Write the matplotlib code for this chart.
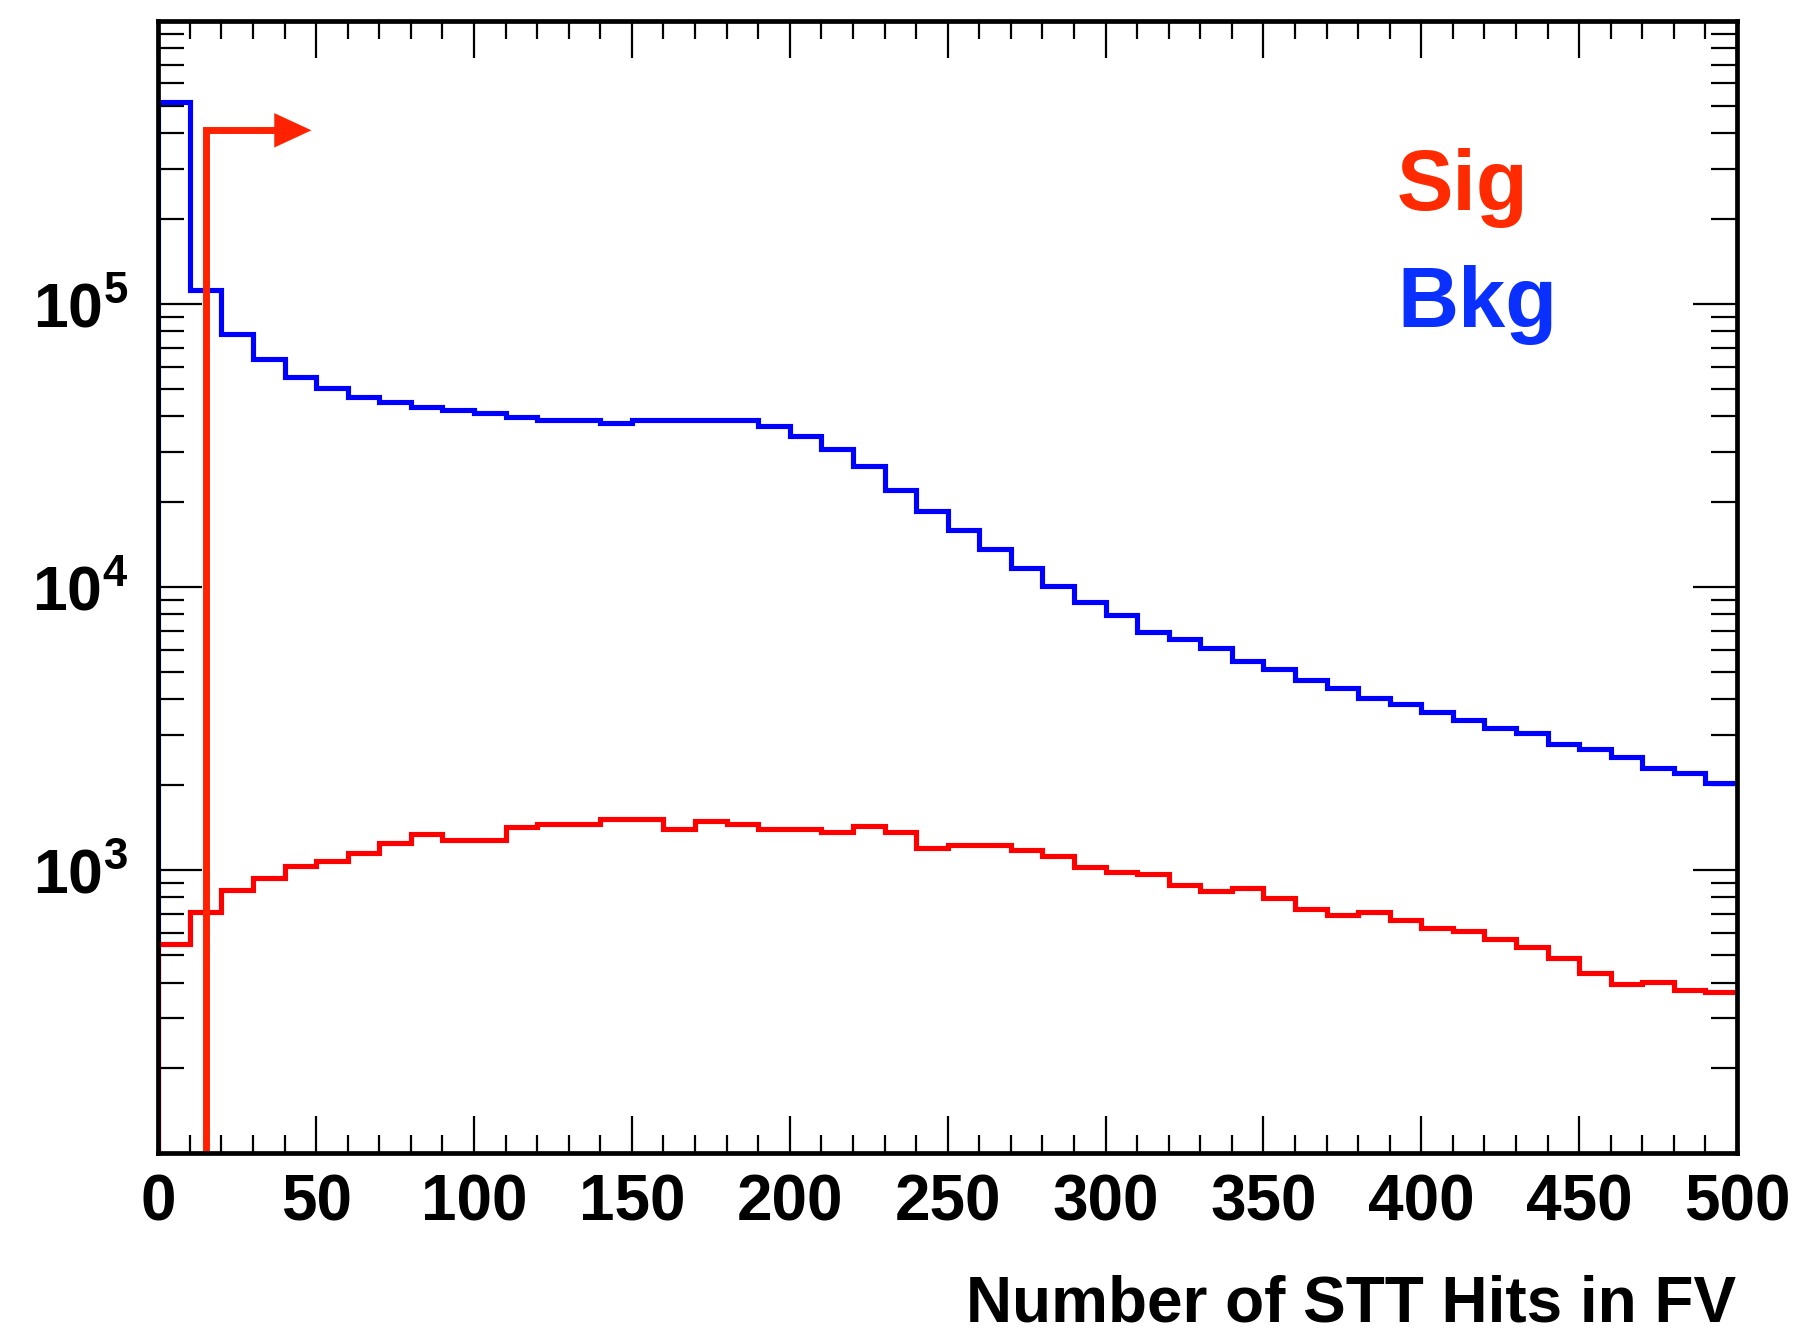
import numpy as np
import matplotlib
matplotlib.use("Agg")
import matplotlib.pyplot as plt
from matplotlib.ticker import FixedLocator, LogLocator, NullFormatter

# ---------------- data ----------------
bin_edges = np.arange(0, 510, 10)

bkg_counts = [
    5.17e5, 1.12e5, 7.80e4, 6.40e4, 5.49e4, 5.02e4, 4.70e4, 4.50e4, 4.31e4, 4.21e4,
    4.12e4, 3.97e4, 3.87e4, 3.87e4, 3.78e4, 3.89e4, 3.89e4, 3.89e4, 3.89e4, 3.71e4,
    3.40e4, 3.06e4, 2.68e4, 2.20e4, 1.85e4, 1.59e4, 1.36e4, 1.17e4, 1.01e4, 8.84e3,
    7.94e3, 6.95e3, 6.53e3, 6.10e3, 5.47e3, 5.13e3, 4.69e3, 4.39e3, 4.04e3, 3.87e3,
    3.61e3, 3.39e3, 3.17e3, 3.05e3, 2.79e3, 2.68e3, 2.50e3, 2.29e3, 2.20e3, 2.02e3,
]

sig_counts = [
    547, 708, 849, 938, 1032, 1076, 1152, 1248, 1335, 1276,
    1276, 1422, 1457, 1457, 1517, 1517, 1400, 1487, 1457, 1391,
    1391, 1361, 1429, 1365, 1200, 1225, 1225, 1173, 1122, 1028,
    985, 964, 884, 840, 862, 793, 727, 695, 711, 665,
    625, 610, 572, 536, 489, 431, 394, 403, 377, 369,
]

cut_value = 15
cut_arrow_top = 4.1e5
cut_arrow_end = 48.5

x_ticks = [0, 50, 100, 150, 200, 250, 300, 350, 400, 450, 500]
x_tick_labels = [str(v) for v in x_ticks]
y_major = [1e3, 1e4, 1e5]
y_tick_labels = [r"$10^{3}$", r"$10^{4}$", r"$10^{5}$"]
x_label = "Number of STT Hits in FV"
legend_labels = ["Sig", "Bkg"]

# ---------------- style ----------------
plt.rcParams["font.family"] = ["Liberation Sans", "DejaVu Sans"]
plt.rcParams["font.weight"] = "bold"
plt.rcParams["mathtext.fontset"] = "custom"
plt.rcParams["mathtext.rm"] = "Liberation Sans:bold"
plt.rcParams["mathtext.it"] = "Liberation Sans:bold"
plt.rcParams["mathtext.bf"] = "Liberation Sans:bold"
plt.rcParams["mathtext.default"] = "rm"

W, H = 1799, 1337
fig = plt.figure(figsize=(W / 100, H / 100), dpi=100)
left, right, top, bottom = 158.3, 1737.0, 20.7, 1153.0
ax = fig.add_axes([left / W, 1 - bottom / H, (right - left) / W, (bottom - top) / H])

ymin, ymax = 100, 1e6
ax.set_yscale("log")
ax.set_xlim(bin_edges[0], bin_edges[-1])
ax.set_ylim(ymin, ymax)

blue = "#0000ff"
red = "#ff0000"
cut_red = "#ff2200"
lw_hist = 3.7

# Background histogram
ax.stairs(bkg_counts, bin_edges, baseline=None, color=blue, lw=lw_hist, zorder=3)
ax.plot([bin_edges[0], bin_edges[0]], [ymin, bkg_counts[0]], color=blue, lw=lw_hist,
        zorder=3, solid_capstyle="butt")
# Signal histogram
ax.stairs(sig_counts, bin_edges, baseline=None, color=red, lw=lw_hist, zorder=4)
ax.plot([bin_edges[0], bin_edges[0]], [ymin, sig_counts[0]], color=red, lw=lw_hist,
        zorder=4, solid_capstyle="butt")

# Cut line with arrow
head_len_units = 11
ax.plot([cut_value, cut_value, cut_arrow_end - head_len_units + 0.5],
        [ymin, cut_arrow_top, cut_arrow_top],
        color=cut_red, lw=5.0, zorder=5, solid_joinstyle="miter", solid_capstyle="butt")
ax.annotate("", xy=(cut_arrow_end, cut_arrow_top),
            xytext=(cut_arrow_end - head_len_units, cut_arrow_top),
            arrowprops=dict(arrowstyle="-|>,head_length=0.95,head_width=0.44",
                            color=cut_red, lw=0.1, shrinkA=0, shrinkB=0,
                            mutation_scale=28),
            zorder=6)

# Axes / ticks
for s in ax.spines.values():
    s.set_linewidth(3.4)
    s.set_zorder(7)

ax.xaxis.set_major_locator(FixedLocator(x_ticks))
ax.set_xticklabels(x_tick_labels)
ax.xaxis.set_minor_locator(FixedLocator(np.arange(0, 501, 10)))
ax.yaxis.set_major_locator(FixedLocator(y_major))
ax.set_yticklabels(y_tick_labels)
ax.yaxis.set_minor_locator(LogLocator(base=10, subs=np.arange(2, 10), numticks=20))
ax.yaxis.set_minor_formatter(NullFormatter())

ax.tick_params(axis="x", which="major", direction="in", top=True, bottom=True,
               length=26.5, width=1.6, labelsize=46, pad=15)
ax.tick_params(axis="x", which="minor", direction="in", top=True, bottom=True,
               length=13, width=1.6)
ax.tick_params(axis="y", which="major", direction="in", left=True, right=True,
               length=31.7, width=1.6, labelsize=45, pad=22)
ax.tick_params(axis="y", which="minor", direction="in", left=True, right=True,
               length=18.7, width=1.6)
for lab in ax.get_xticklabels() + ax.get_yticklabels():
    lab.set_fontweight("bold")

# x-axis title
fig.text(1736 / W, 1 - 1322 / H, x_label, ha="right", va="baseline",
         fontsize=46, fontweight="bold", color="black")

# Legend-style labels
fig.text(1397 / W, 1 - 210 / H, legend_labels[0], ha="left", va="baseline",
         fontsize=61, fontweight="bold", color="#ff2a00")
fig.text(1397 / W, 1 - 327 / H, legend_labels[1], ha="left", va="baseline",
         fontsize=61, fontweight="bold", color="#0a30ff")

fig.savefig("out.png", dpi=100, facecolor="white")
